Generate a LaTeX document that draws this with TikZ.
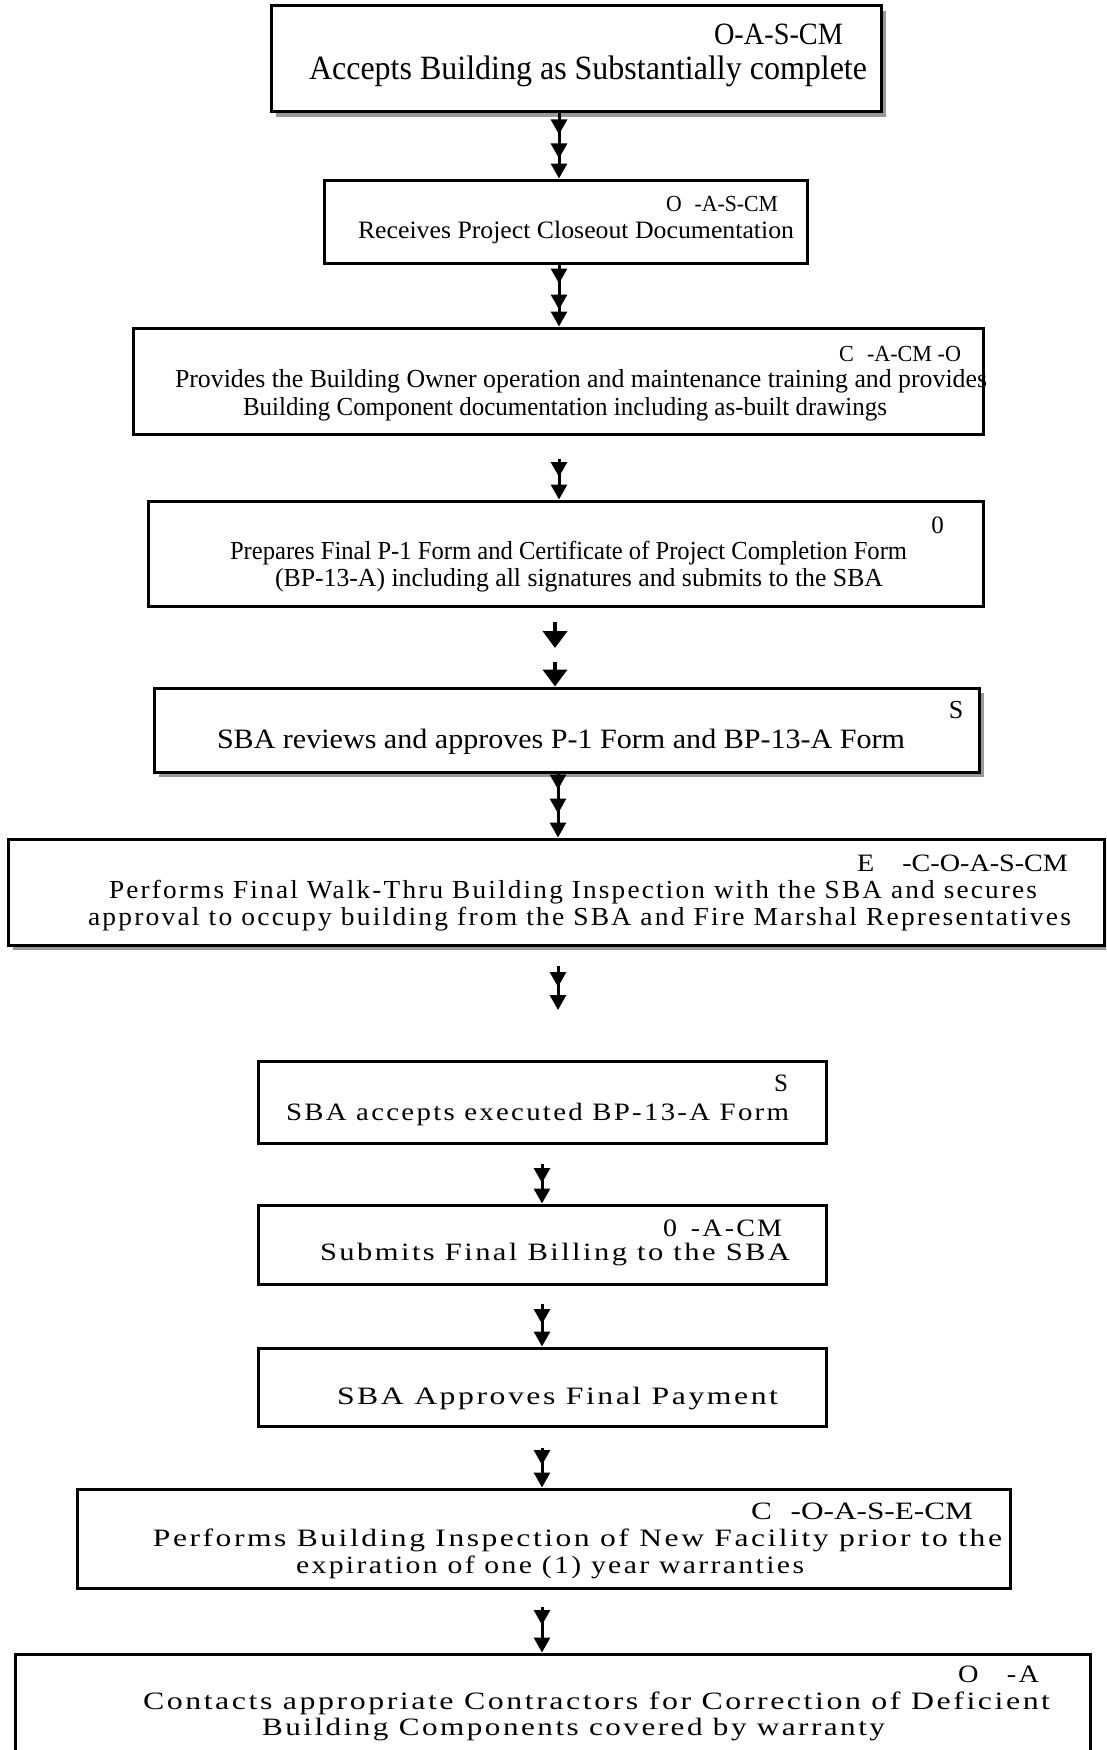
\documentclass[tikz,border=0pt]{standalone}
\usepackage{fontspec}
\usepackage{graphicx}
\setmainfont{Liberation Serif}
\newfontfamily\spaced[LetterSpace=8]{Liberation Serif}
\usetikzlibrary{arrows.meta,decorations.markings,shadows}
\newsavebox\fitbox
\newdimen\fitdim
\newcommand\fitw[2]{\sbox\fitbox{#2}\fitdim=\wd\fitbox\pgfmathsetmacro\fitx{#1/\the\fitdim}\scalebox{\fitx}[1]{\usebox\fitbox}}
\newcommand\fs[1]{\fontsize{#1}{#1}\selectfont}
\newcommand\myhead{\arrow{Triangle[width=16pt,length=15pt]}}
\tikzset{
  box/.style={draw=black, line width=3pt, rectangle, inner sep=0pt},
  shad/.style={fill=white, drop shadow={fill=gray!80, opacity=1, shadow xshift=5pt, shadow yshift=-5pt}},
  txt/.style={inner sep=0pt, anchor=mid, yshift=-6pt},
  conn/.style={line width=3pt, -{Triangle[width=16pt,length=15pt]}},
  bigconn/.style={line width=4pt, -{Triangle[width=24pt,length=17pt]}},
  heads/.style={postaction={decorate}, decoration={markings, #1}}
}
\begin{document}
\begin{tikzpicture}[x=1pt,y=-1pt]
\clip (0,0) rectangle (1106,1750);
\fill[white] (0,0) rectangle (1106,1750);
% boxes
\node[box,shad,minimum width=610pt,minimum height=106pt] (b1) at (576,59) {};
\node[box,minimum width=483pt,minimum height=83pt] (b2) at (565.5,221.5) {};
\node[box,minimum width=835pt,minimum height=105pt] (b4) at (565.5,553.5) {};
\node[box,shad,minimum width=825pt,minimum height=84pt] (b5) at (566.5,730) {};
\node[box,shad,minimum width=1096pt,minimum height=106pt] (b6) at (556,892) {};
\node[box,minimum width=568pt,minimum height=82pt] (b7) at (542,1102) {};
\node[box,minimum width=568pt,minimum height=79pt] (b8) at (542,1244.5) {};
\node[box,minimum width=568pt,minimum height=78pt] (b9) at (542,1387) {};
\node[box,minimum width=933pt,minimum height=99pt] (b10) at (543.5,1538.5) {};
\node[box,minimum width=1075pt,minimum height=106pt] (b11) at (552.5,1707) {};
% box 1 text
\node[txt] (t1a) at (778.5,36) {\fs{31}\fitw{129}{O-A-S-CM}};
\node[txt] (t1b) at (588,71) {\fs{34}\fitw{558}{Accepts Building as Substantially complete}};
% box 2 text
\node[txt] (t2a) at (722,203) {\fs{23}\fitw{112}{O\hspace{0.6em}-A-S-CM}};
\node[txt] (t2b) at (576,230) {\fs{25}\fitw{436}{Receives Project Closeout Documentation}};
% box 3 text (box drawn over it)
\node[txt] (t3a) at (900,353) {\fs{23}\fitw{122}{C\hspace{0.6em}-A-CM -O}};
\node[txt] (t3b) at (581,379) {\fs{26}\fitw{812}{Provides the Building Owner operation and maintenance training and provides}};
\node[txt] (t3c) at (565,407) {\fs{26}\fitw{644}{Building Component documentation including as-built drawings}};
\node[box,minimum width=850pt,minimum height=106pt] (b3) at (558,381) {};
% box 4 text
\node[txt] (t4a) at (937.5,525) {\fs{25}0};
\node[txt] (t4b) at (568.5,551) {\fs{26}\fitw{677}{Prepares Final P-1 Form and Certificate of Project Completion Form}};
\node[txt] (t4c) at (579,578) {\fs{26}\fitw{608}{(BP-13-A) including all signatures and submits to the SBA}};
% box 5 text
\node[txt] (t5a) at (956,710) {\fs{26}S};
\node[txt] (t5b) at (561,740) {\fs{28}\fitw{688}{SBA reviews and approves P-1 Form and BP-13-A Form}};
% box 6 text
\node[txt] (t6a) at (962.5,863) {\fs{25}\fitw{211}{E\hspace{1em}-C-O-A-S-CM}};
\node[txt] (t6b) at (573,890) {\fs{26}\spaced\fitw{928}{Performs Final Walk-Thru Building Inspection with the SBA and secures}};
\node[txt] (t6c) at (579.5,917) {\fs{26}\spaced\fitw{983}{approval to occupy building from the SBA and Fire Marshal Representatives}};
% box 7 text
\node[txt] (t7a) at (781,1083) {\fs{25}S};
\node[txt] (t7b) at (537.5,1112) {\fs{25}\spaced\fitw{503}{SBA accepts executed BP-13-A Form}};
% box 8 text
\node[txt] (t8a) at (722.5,1228) {\fs{25}\spaced\fitw{119}{0\hspace{0.5em}-A-CM}};
\node[txt] (t8b) at (555,1252) {\fs{25}\spaced\fitw{470}{Submits Final Billing to the SBA}};
% box 9 text
\node[txt] (t9a) at (557.5,1396) {\fs{25}\spaced\fitw{441}{SBA Approves Final Payment}};
% box 10 text
\node[txt] (t10a) at (862,1511) {\fs{25}\fitw{222}{C\hspace{0.6em}-O-A-S-E-CM}};
\node[txt] (t10b) at (577.5,1538) {\fs{25}\spaced\fitw{849}{Performs Building Inspection of New Facility prior to the}};
\node[txt] (t10c) at (550,1565) {\fs{25}\spaced\fitw{508}{expiration of one (1) year warranties}};
% box 11 text
\node[txt] (t11a) at (998.5,1674) {\fs{25}\spaced\fitw{81}{O\hspace{1em}-A}};
\node[txt] (t11b) at (596.5,1701) {\fs{25}\spaced\fitw{907}{Contacts appropriate Contractors for Correction of Deficient}};
\node[txt] (t11c) at (573.5,1727) {\fs{25}\spaced\fitw{623}{Building Components covered by warranty}};
% connector x positions and free ends
\coordinate (xa) at (559,0);
\coordinate (xb) at (555,0);
\coordinate (xc) at (558,0);
\coordinate (xd) at (542,0);
\coordinate (c3s) at (559,459);
\coordinate (c4s) at (555,622);
\coordinate (c4e) at (555,648);
\coordinate (c5s) at (555,662);
\coordinate (c6s) at (558,966);
\coordinate (c6e) at (558,1010);
\coordinate (c7s) at (542,1164);
\coordinate (c8s) at (542,1304);
\coordinate (c9s) at (542,1448);
\coordinate (c10s) at (542,1607);
% connectors
\draw[conn,heads={mark=at position 21pt with {\myhead}, mark=at position 45pt with {\myhead}}] (b1.south -| xa) -- (b2.north -| xa);
\draw[conn,heads={mark=at position 19pt with {\myhead}, mark=at position 45pt with {\myhead}}] (b2.south -| xa) -- (b3.north -| xa);
\draw[conn,heads={mark=at position 18pt with {\myhead}}] (c3s) -- (b4.north -| xa);
\draw[bigconn] (c4s) -- (c4e);
\draw[bigconn] (c5s) -- (b5.north -| xb);
\draw[conn,heads={mark=at position 16pt with {\myhead}, mark=at position 40pt with {\myhead}}] (b5.south -| xc) -- (b6.north -| xc);
\draw[conn,heads={mark=at position 21pt with {\myhead}}] (c6s) -- (c6e);
\draw[conn,heads={mark=at position 19pt with {\myhead}}] (c7s) -- (b8.north -| xd);
\draw[conn,heads={mark=at position 20pt with {\myhead}}] (c8s) -- (b9.north -| xd);
\draw[conn,heads={mark=at position 17pt with {\myhead}}] (c9s) -- (b10.north -| xd);
\draw[conn,heads={mark=at position 18pt with {\myhead}}] (c10s) -- (b11.north -| xd);
\end{tikzpicture}
\end{document}
